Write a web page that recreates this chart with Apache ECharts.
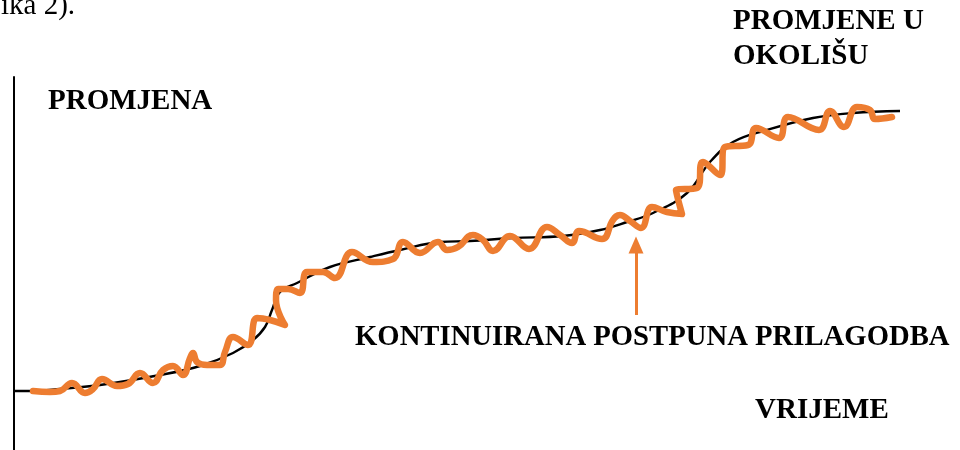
<!DOCTYPE html>
<html>
<head>
<meta charset="utf-8">
<script src="https://cdn.jsdelivr.net/npm/echarts@6/dist/echarts.min.js"></script>
<style>html,body{margin:0;padding:0;background:#fff;}#c{width:960px;height:450px;}</style>
</head>
<body>
<div id="c"></div>
<script>
// Environmental change (smooth black curve): [time, change]
var envTime   = [0, 19, 46, 86, 146, 186, 219, 239, 251, 258, 266, 283, 316, 356, 386, 426, 456, 499, 549, 586, 613, 639, 673, 696, 719, 753, 799, 839, 886];
var envChange = [59, 59, 61, 65, 75, 84, 97, 110, 123, 140, 158, 167, 183, 193, 200, 208, 209, 212, 214, 220, 228, 237, 257, 288, 308, 320, 332, 337, 339];

// Continuous gradual adaptation (wavy orange line): [time, change]
var adaptTime   = [19, 36, 46, 58, 71, 79, 88, 103, 114, 126, 139, 149, 159, 169, 176, 179, 183, 193, 206, 211, 219, 234, 243, 256, 271, 262, 264, 274, 286, 293, 309, 321, 338, 359, 379, 389, 406, 424, 433, 444, 459, 469, 479, 496, 515, 533, 546, 558, 565, 588, 599, 606, 616, 627, 638, 653, 668, 662, 683, 689, 706, 711, 734, 742, 765, 774, 805, 816, 830, 843, 856, 861, 878];
var adaptChange = [59, 58, 59, 67, 57, 61, 71, 64, 66, 77, 67, 80, 84, 75, 92, 97, 88, 85, 85, 98, 113, 105, 132, 130, 125, 150, 161, 161, 157, 178, 178, 172, 198, 188, 191, 208, 197, 208, 200, 203, 215, 210, 199, 214, 201, 223, 215, 207, 219, 211, 230, 235, 229, 222, 243, 238, 236, 260, 262, 288, 275, 303, 305, 322, 312, 333, 320, 339, 323, 343, 340, 331, 333];

// Arrow pointing at the adaptation line
var arrowTime = 622;
var arrowFrom = 135;
var arrowTo = 205;

var labels = {
  yName: 'PROMJENA',
  envName: ['PROMJENE U', 'OKOLIŠU'],
  adaptName: 'KONTINUIRANA POSTPUNA PRILAGODBA',
  xName: 'VRIJEME',
  caption: 'ika 2).'
};

function zip(a, b) { return a.map(function (v, i) { return [v, b[i]]; }); }

var chart = echarts.init(document.getElementById('c'), null, {renderer: 'canvas'});
var bold = {fontFamily: '"Liberation Serif", "Times New Roman", serif', fontWeight: 'bold', fontSize: 29, fill: '#000'};
chart.setOption({
  animation: false,
  backgroundColor: '#fff',
  grid: {left: 14, right: 0, top: 77, bottom: 0, containLabel: false},
  xAxis: {type: 'value', min: 0, max: 946, show: false, splitLine: {show: false}},
  yAxis: {
    type: 'value', min: 0, max: 373,
    axisLine: {show: true, onZero: false, lineStyle: {color: '#000', width: 2}},
    axisTick: {show: false}, axisLabel: {show: false}, splitLine: {show: false}
  },
  graphic: [
    {type: 'text', x: 1, y: 0, style: {text: labels.caption, fontFamily: '"Liberation Serif", serif', fontSize: 29, fill: '#000', verticalAlign: 'middle', y: 6}},
    {type: 'text', x: 48, y: 102, style: Object.assign({text: labels.yName, verticalAlign: 'middle'}, bold)},
    {type: 'text', x: 733, y: 22, style: Object.assign({text: labels.envName[0], verticalAlign: 'middle'}, bold)},
    {type: 'text', x: 733, y: 57, style: Object.assign({text: labels.envName[1], verticalAlign: 'middle'}, bold)},
    {type: 'text', x: 355, y: 338, style: Object.assign({text: labels.adaptName, verticalAlign: 'middle'}, bold, {fontSize: 28.7})},
    {type: 'text', x: 755, y: 411, style: Object.assign({text: labels.xName, verticalAlign: 'middle'}, bold)}
  ],
  series: [
    {
      type: 'line', data: zip(envTime, envChange), smooth: 0.4, showSymbol: false, clip: false,
      lineStyle: {color: '#000', width: 2.4}, silent: true, z: 2
    },
    {
      type: 'line', data: zip(adaptTime, adaptChange), smooth: 0.45, showSymbol: false, clip: false,
      lineStyle: {color: '#ED7D31', width: 6.5, cap: 'round', join: 'round'}, silent: true, z: 3,
      markLine: {
        silent: true, symbol: ['none', 'triangle'], symbolSize: [15, 17],
        label: {show: false},
        lineStyle: {color: '#ED7D31', width: 3, type: 'solid'},
        data: [[{coord: [arrowTime, arrowFrom]}, {coord: [arrowTime, arrowTo]}]]
      }
    }
  ]
});
</script>
</body>
</html>
